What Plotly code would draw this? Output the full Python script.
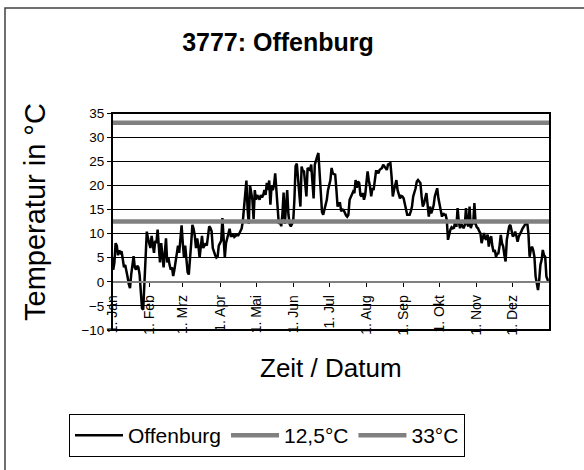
import plotly.graph_objects as go

# Daily mean temperatures (°C), one list per month
jan = [5, 2.5, 4, 8, 7.5, 5.5, 6.5, 6, 6.3, 5, 3, 3.5, 2.5, 1, -0.5, -1.3, 1.5, 3.5, 5.3, 3,
       2.5, 3.3, 3, 1.5, -3.5, -5.5, -5.8, -1, 5, 10.4, 9]
feb = [8, 7, 9.5, 7.5, 6, 8.5, 8, 10.8, 8, 4, 8, 5.5, 3, 6, 9, 4, 5, 3.5, 2.5, 3,
       1.2, 2.5, 4, 6, 7.5, 6, 9, 11.7]
mar = [8, 5, 7.5, 5, 2, 1.5, 4, 8, 11.8, 11, 9.5, 7, 9, 7.5, 5, 8, 9.5, 7, 7.5, 8,
       7.5, 9.5, 11.5, 11.2, 10.5, 7, 6, 5.5, 5, 5.2, 7.5]
apr = [8, 8.5, 13.2, 9, 5, 8, 9, 10.5, 11, 9.5, 9.5, 10, 9.3, 9.5, 10, 9.5, 10, 10.5, 11, 12.5,
       15, 18, 21, 15, 12, 20, 18, 17, 13, 19]
may = [17, 18, 17.5, 17, 18, 17.5, 18, 19, 18, 20.5, 19, 21, 16, 20, 19, 20, 22.5, 19, 15, 12,
       12.5, 11.5, 14, 18.5, 12, 16, 19, 14, 12, 11.5, 12]
jun = [12.5, 17, 24, 24.5, 21, 18, 15.6, 23.9, 23, 22.9, 20, 17.7, 23.6, 23.4, 23.2, 24.3, 21,
       17.3, 24.3, 25.5, 26, 26.7, 21.8, 18, 14.5, 13.9, 15, 15.6, 17, 19]
jul = [20.5, 21.1, 23.6, 22.5, 22.3, 22.2, 19.1, 15.6, 16.3, 16.3, 14.6, 15, 14.9, 14.2, 13.8,
       13.5, 13.9, 17, 17.7, 18.4, 18.7, 18.4, 21.1, 19.5, 20.8, 20.5, 18, 17.7, 18.4, 17, 18]
aug = [20.5, 22.9, 21, 19.8, 17.7, 19.4, 19, 20.5, 22.9, 22.9, 22.5, 23.2, 23.4, 23.6, 24.3,
       23.9, 23.5, 23.2, 24.3, 24.4, 24.6, 21.8, 17.7, 19, 20.5, 21.1, 19, 18, 17.3, 17.8, 17.7]
sep = [17.3, 16, 14.5, 13.9, 13.9, 13.9, 14.6, 15.6, 17.7, 18.5, 19.4, 20.8, 21.1, 20.8, 20.5,
       17.7, 15.6, 16.2, 17.3, 18.4, 16, 13.5, 15.6, 14.2, 14.9, 15.8, 17.7, 18.5, 19.4, 17.3]
okt = [16, 15, 13.5, 14.2, 13.9, 13.9, 12.8, 8.7, 10, 10.8, 11.3, 11.1, 11.2, 12.5, 11.4, 15.3,
       12.5, 11.1, 12, 11.5, 11.1, 11.8, 15.3, 12, 11.5, 15.6, 11.1, 12, 12.1, 16.3, 12]
nov = [11.3, 11.1, 10.5, 10.1, 8, 9.5, 10.1, 9, 8.7, 9.8, 7.3, 9, 9.4, 7.3, 6.2, 6.6, 5.2, 5.8,
       5.9, 7.5, 9.7, 8, 7.3, 5.5, 4.2, 8.7, 10.5, 11.5, 11.8, 10.4]
dez = [9.4, 9.7, 10.4, 9.5, 8.3, 9.4, 10.1, 10.4, 11, 11.5, 11.8, 12.1, 12.3, 10.1, 5.2, 6.6,
       7.3, 6.6, 5.2, 1.1, -0.5, -1.7, 0.4, 3.5, 4.5, 6.6, 5.5, 5.2, 1.1, 0.4, 0.4]

months = [jan, feb, mar, apr, may, jun, jul, aug, sep, okt, nov, dez]
month_labels = ["1. Jan", "1. Feb", "1. Mrz", "1. Apr", "1. Mai", "1. Jun",
                "1. Jul", "1. Aug", "1. Sep", "1. Okt", "1. Nov", "1. Dez"]

temps = [v for m in months for v in m]
days = list(range(len(temps)))
month_starts = []
acc = 0
for m in months:
    month_starts.append(acc)
    acc += len(m)
year_len = acc

threshold_low = 12.5
threshold_high = 33
y_min, y_max, y_step = -10, 35, 5

FONT = "Liberation Sans, Arial, sans-serif"
W, H = 584, 470
L, R, T, B = 112, 34, 113, 140
pw, ph = W - L - R, H - T - B

def px_x(px):
    return (px - L) / pw

def px_y(py):
    return (H - B - py) / ph

fig = go.Figure()
fig.add_trace(go.Scatter(x=days, y=temps, mode="lines", name="Offenburg",
                         line=dict(color="black", width=2.5)))
fig.add_trace(go.Scatter(x=[0, year_len], y=[threshold_low, threshold_low], mode="lines",
                         name="12,5°C", line=dict(color="#808080", width=4.5)))
fig.add_trace(go.Scatter(x=[0, year_len], y=[threshold_high, threshold_high], mode="lines",
                         name="33°C", line=dict(color="#808080", width=4.5)))

zero_pos = (0 - y_min) / (y_max - y_min)

fig.update_layout(
    width=W, height=H,
    margin=dict(l=L, r=R, t=T, b=B),
    paper_bgcolor="white", plot_bgcolor="white",
    font=dict(family=FONT, color="black"),
    title=dict(text="<b>3777: Offenburg</b>", font=dict(size=25, family=FONT, color="black"),
               x=278 / W, xanchor="center", xref="container",
               y=1 - 42 / H, yanchor="middle", yref="container"),
    xaxis=dict(range=[0, year_len], tickvals=month_starts, ticktext=month_labels,
               tickangle=-90, tickfont=dict(size=14, family=FONT, color="black"),
               anchor="free", position=zero_pos, showgrid=False, zeroline=False,
               showline=True, linecolor="#808080", linewidth=1.5,
               ticks="outside", ticklen=4, tickcolor="black", tickwidth=1,
               ticklabelstandoff=3),
    yaxis=dict(range=[y_min, y_max], dtick=y_step, tick0=0,
               tickfont=dict(size=13.5, family=FONT, color="black"),
               showgrid=True, gridcolor="black", gridwidth=1, zeroline=False,
               ticks="outside", ticklen=4, tickcolor="black", showline=False),
    showlegend=True,
    legend=dict(orientation="h", x=px_x(69), xanchor="left", y=px_y(414), yanchor="top",
                bordercolor="black", borderwidth=1, bgcolor="white",
                font=dict(size=21, family=FONT, color="black"), itemwidth=48,
                traceorder="normal"),
)

# plot frame
fig.add_shape(type="rect", xref="paper", yref="paper", x0=0, x1=1, y0=0, y1=1,
              line=dict(color="black", width=2), layer="above")
# outer chart frame (left/top visible)
fig.add_shape(type="rect", xref="paper", yref="paper", x0=px_x(5), x1=px_x(600),
              y0=px_y(490), y1=px_y(8), line=dict(color="#404040", width=1.5), layer="above")

fig.add_annotation(text="Temperatur in °C", xref="paper", yref="paper",
                   x=px_x(35), y=px_y(212), textangle=-90, showarrow=False,
                   xanchor="center", yanchor="middle",
                   font=dict(size=29, family=FONT, color="black"))
fig.add_annotation(text="Zeit / Datum", xref="paper", yref="paper",
                   x=px_x(331), y=px_y(368), showarrow=False,
                   xanchor="center", yanchor="middle",
                   font=dict(size=26, family=FONT, color="black"))

fig.write_html("out.html", config={"displayModeBar": False},
               post_script="document.body.style.margin='0px';")
